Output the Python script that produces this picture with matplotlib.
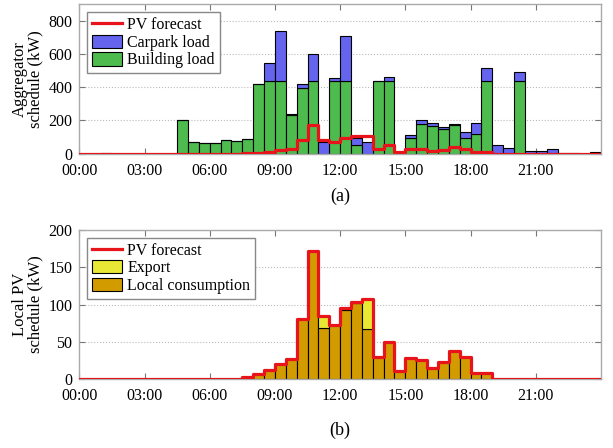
import numpy as np
import matplotlib
matplotlib.use("Agg")
import matplotlib.pyplot as plt

plt.rcParams['font.family'] = ['Liberation Serif', 'DejaVu Serif']
plt.rcParams['font.size'] = 12

# half-hour slots over one day (48 bins)
slot_hours = np.arange(0, 24, 0.5)
bin_width = 0.5

building_load = [0, 0, 0, 0, 0, 0, 0, 0, 0, 205, 72, 62, 66, 82, 76, 88,
                 420, 436, 436, 232, 392, 436, 0, 436, 436, 52, 0, 438, 436, 0, 92, 176,
                 168, 148, 172, 96, 120, 436, 0, 0, 436, 0, 0, 0, 0, 0, 0, 0]
carpark_load = [0, 0, 4, 0, 0, 0, 0, 0, 0, 0, 0, 0, 0, 0, 0, 0,
                0, 112, 304, 4, 30, 166, 72, 20, 272, 44, 68, 0, 28, 0, 22, 24,
                14, 14, 6, 36, 66, 82, 50, 32, 54, 18, 18, 28, 4, 4, 0, 8]
pv_forecast = [0, 0, 0, 0, 0, 0, 0, 0, 0, 0, 0, 0, 0, 0, 0, 3.5,
               7, 12, 21, 27, 80, 171, 84, 73, 95, 104, 107, 30, 50, 11, 28, 26,
               15, 23, 38, 30, 9, 9, 0, 0, 0, 0, 0, 0, 0, 0, 0, 0]
local_use = [0, 0, 0, 0, 0, 0, 0, 0, 0, 0, 0, 0, 0, 0, 0, 3.5,
             7, 12, 21, 27, 80, 171, 69, 73, 93, 102, 67, 30, 50, 11, 28, 26,
             15, 23, 38, 30, 9, 9, 0, 0, 0, 0, 0, 0, 0, 0, 0, 0]
export = [0, 0, 0, 0, 0, 0, 0, 0, 0, 0, 0, 0, 0, 0, 0, 0,
          0, 0, 0, 0, 0, 0, 15, 0, 2, 2, 40, 0, 0, 0, 0, 0,
          0, 0, 0, 0, 0, 0, 0, 0, 0, 0, 0, 0, 0, 0, 0, 0]

tick_hours = [0, 3, 6, 9, 12, 15, 18, 21]
tick_labels = ['00:00', '03:00', '06:00', '09:00', '12:00', '15:00', '18:00', '21:00']

red = '#e8141c'
blue = '#6464ee'
green = '#4dbb4d'
yellow = '#e8e835'
gold = '#d29b00'

edges = np.append(slot_hours, 24)
pv_step = np.append(pv_forecast, pv_forecast[-1])

fig = plt.figure(figsize=(6.13, 4.48), dpi=100)
ax1 = fig.add_axes([0.1294, 0.657, 0.851, 0.334])
ax2 = fig.add_axes([0.1294, 0.1533, 0.851, 0.334])


def style(ax, ymax, yticks):
    ax.set_xlim(0, 24)
    ax.set_ylim(0, ymax)
    ax.set_xticks(tick_hours)
    ax.set_xticklabels(tick_labels)
    ax.set_yticks(yticks)
    ax.tick_params(direction='in', top=True, right=True, length=4,
                   color='#777777', labelsize=11.5)
    ax.tick_params(axis='x', pad=6.5)
    ax.tick_params(axis='y', pad=5)
    for s in ax.spines.values():
        s.set_color('#aaaaaa')
        s.set_linewidth(1.0)
    ax.grid(axis='y', linestyle=':', color='#bbbbbb', linewidth=0.8)
    ax.set_axisbelow(True)


def add_legend(ax):
    h, l = ax.get_legend_handles_labels()
    order = [0, 2, 1]  # PV first, then upper stack, then lower stack
    ax.legend([h[i] for i in order], [l[i] for i in order], loc='upper left',
              fancybox=False, edgecolor='#888888', framealpha=1, fontsize=11.5,
              handlelength=1.9, handleheight=0.9, borderaxespad=0.5, labelspacing=0.1,
              handletextpad=0.3, borderpad=0.3)


# (a) aggregator schedule
ax1.bar(slot_hours, building_load, width=bin_width, align='edge', color=green,
        edgecolor='black', linewidth=0.8, label='Building load')
ax1.bar(slot_hours, carpark_load, width=bin_width, align='edge', bottom=building_load,
        color=blue, edgecolor='black', linewidth=0.8, label='Carpark load')
ax1.step(edges, pv_step, where='post', color=red, linewidth=2.3, label='PV forecast', zorder=5)
style(ax1, 900, [0, 200, 400, 600, 800])
ax1.set_ylabel('Aggregator\nschedule (kW)', fontsize=12, linespacing=1.0)
ax1.yaxis.set_label_coords(-0.068, 0.5)
add_legend(ax1)

# (b) local PV schedule
ax2.bar(slot_hours, local_use, width=bin_width, align='edge', color=gold,
        edgecolor='black', linewidth=0.8, label='Local consumption')
ax2.bar(slot_hours, export, width=bin_width, align='edge', bottom=local_use,
        color=yellow, edgecolor='black', linewidth=0.8, label='Export')
ax2.step(edges, pv_step, where='post', color=red, linewidth=2.3, label='PV forecast', zorder=5)
style(ax2, 200, [0, 50, 100, 150, 200])
ax2.set_ylabel('Local PV\nschedule (kW)', fontsize=12, linespacing=1.0)
ax2.yaxis.set_label_coords(-0.068, 0.5)
add_legend(ax2)

fig.text(0.555, 0.562, '(a)', ha='center', va='center', fontsize=13)
fig.text(0.555, 0.04, '(b)', ha='center', va='center', fontsize=13)

fig.savefig('out.png', dpi=100)
